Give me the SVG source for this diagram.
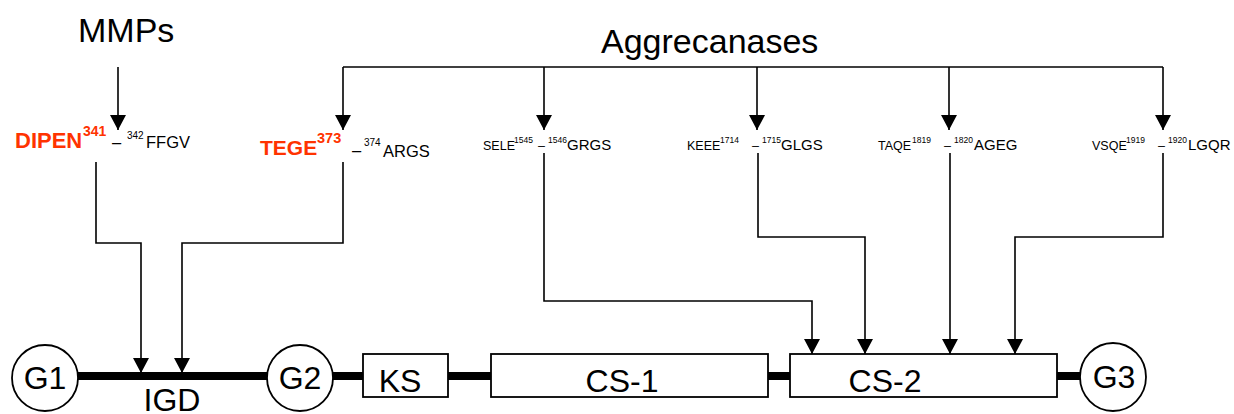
<svg xmlns="http://www.w3.org/2000/svg" width="1234" height="414" viewBox="0 0 1234 414">
<style>
text{font-family:"Liberation Sans",Arial,sans-serif;fill:#000}
.big{font-size:34px}
.lbl{font-size:32px;text-anchor:middle}
.red{fill:#ff3300;font-weight:bold}
.conn{fill:none;stroke:#000;stroke-width:1.6}
.arr{marker-end:url(#ah)}
.bar{stroke:#000;stroke-width:8;fill:none}
.shape{fill:#fff;stroke:#000;stroke-width:1.8}
.s{font-size:12.5px}.ss{font-size:8.5px}.sr{font-size:15px}
.m{font-size:16.5px}.ms{font-size:10px}
</style>
<defs>
<marker id="ah" viewBox="0 0 15 16" markerWidth="15" markerHeight="16" refX="15" refY="8" orient="auto" markerUnits="userSpaceOnUse">
<path d="M0,0 L15,8 L0,16 Z" fill="#000"/>
</marker>
</defs>

<g id="mmps"><text class="big" x="78" y="42">MMPs</text></g>
<g id="aggrecanases"><text class="big" x="601" y="53">Aggrecanases</text></g>

<g id="site-dipen">
<text y="148"><tspan class="red" x="15" font-size="22">DIPEN</tspan><tspan class="red" x="83" y="136" font-size="14">341</tspan><tspan class="m" x="112" y="148">–</tspan><tspan class="ms" x="127" y="139">342</tspan><tspan class="m" x="146" y="148">FFGV</tspan></text>
</g>
<g id="site-tege">
<text y="155"><tspan class="red" x="260" font-size="21">TEGE</tspan><tspan class="red" x="317" y="143" font-size="14.5">373</tspan><tspan class="m" x="352" y="156">–</tspan><tspan class="ms" x="364" y="146">374</tspan><tspan class="m" x="383" y="157">ARGS</tspan></text>
</g>
<g id="site-sele">
<text y="150"><tspan class="s" x="483">SELE</tspan><tspan class="ss" x="514" y="143">1545</tspan><tspan class="s" x="538" y="150">–</tspan><tspan class="ss" x="548" y="143">1546</tspan><tspan class="sr" x="567" y="150">GRGS</tspan></text>
</g>
<g id="site-keee">
<text y="150"><tspan class="s" x="687">KEEE</tspan><tspan class="ss" x="720" y="143">1714</tspan><tspan class="s" x="752" y="150">–</tspan><tspan class="ss" x="762" y="143">1715</tspan><tspan class="sr" x="781" y="150">GLGS</tspan></text>
</g>
<g id="site-taqe">
<text y="150"><tspan class="s" x="878">TAQE</tspan><tspan class="ss" x="912" y="143">1819</tspan><tspan class="s" x="944" y="150">–</tspan><tspan class="ss" x="954" y="143">1820</tspan><tspan class="sr" x="974" y="150">AGEG</tspan></text>
</g>
<g id="site-vsqe">
<text y="150"><tspan class="s" x="1092">VSQE</tspan><tspan class="ss" x="1126" y="143">1919</tspan><tspan class="s" x="1158" y="150">–</tspan><tspan class="ss" x="1168" y="143">1920</tspan><tspan class="sr" x="1188" y="150">LGQR</tspan></text>
</g>

<g id="backbone">
<path class="bar" d="M77,376 H268 M333,376 H363 M448,376 H491 M768,376 H790 M1057,376 H1080"/>
</g>

<g id="connectors">
<path class="conn arr" d="M118,67 V130"/>
<path class="conn" d="M343,67 H1163"/>
<path class="conn arr" d="M343,67 V130"/>
<path class="conn arr" d="M544,67 V130"/>
<path class="conn arr" d="M757,67 V130"/>
<path class="conn arr" d="M949,67 V130"/>
<path class="conn arr" d="M1163,67 V130"/>
<path class="conn arr" d="M96,162 V243 H141 V373"/>
<path class="conn arr" d="M343,162 V243 H182 V373"/>
<path class="conn arr" d="M544,153 V301 H812 V354"/>
<path class="conn arr" d="M758,153 V237 H865 V354"/>
<path class="conn arr" d="M950,153 V354"/>
<path class="conn arr" d="M1163,153 V237 H1015 V354"/>
</g>

<g id="G1"><ellipse class="shape" cx="45" cy="378" rx="33" ry="33"/><text class="lbl" x="45" y="389" font-size="31">G1</text></g>
<g id="IGD"><text class="lbl" x="172" y="411" font-size="33">IGD</text></g>
<g id="G2"><ellipse class="shape" cx="300" cy="378" rx="33" ry="33"/><text class="lbl" x="300" y="389" font-size="31">G2</text></g>
<g id="KS"><rect class="shape" x="363" y="354" width="85" height="43"/><text class="lbl" x="400" y="392">KS</text></g>
<g id="CS-1"><rect class="shape" x="491" y="354" width="277" height="43"/><text class="lbl" x="622" y="392">CS-1</text></g>
<g id="CS-2"><rect class="shape" x="790" y="354" width="267" height="43"/><text class="lbl" x="885" y="392">CS-2</text></g>
<g id="G3"><ellipse class="shape" cx="1113" cy="377" rx="33" ry="34"/><text class="lbl" x="1114" y="388" font-size="31">G3</text></g>
</svg>
